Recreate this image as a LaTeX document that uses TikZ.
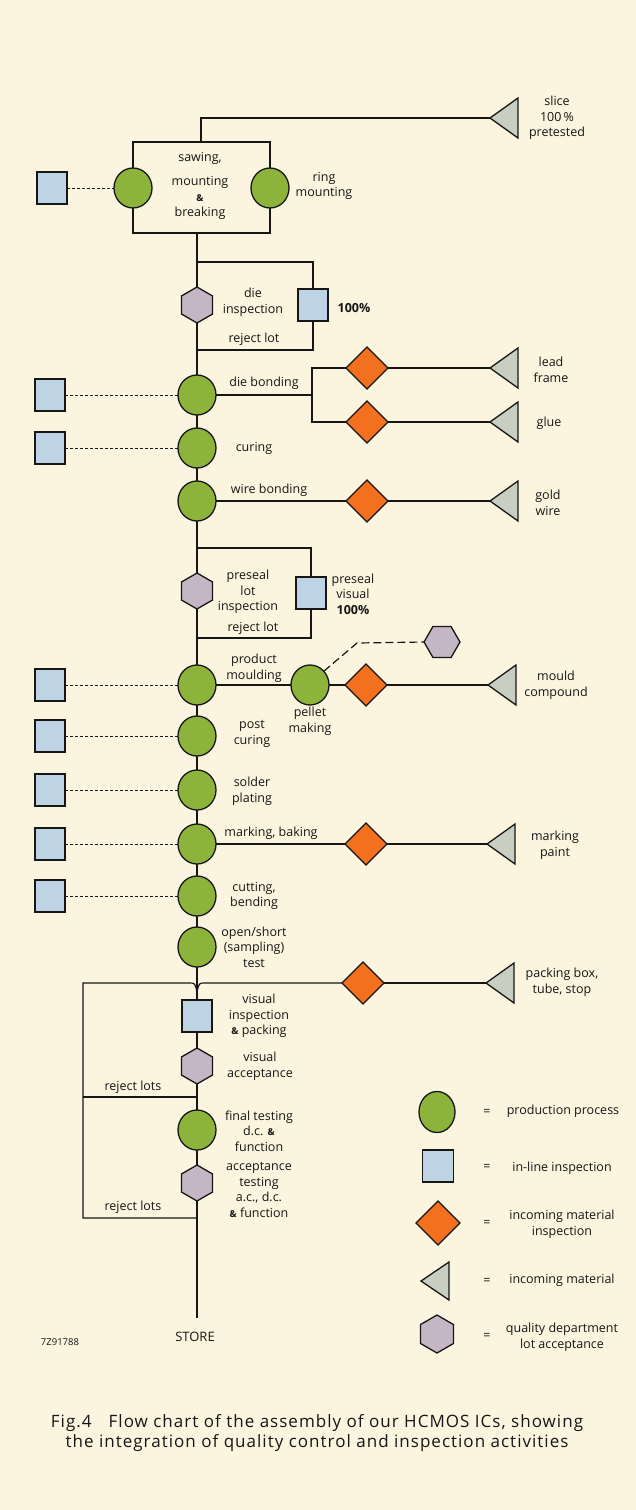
\documentclass[tikz,border=0pt]{standalone}
\usepackage{fontspec}
\setmainfont{Open Sans}
\newfontfamily\capfont{Open Sans}[LetterSpace=6]
\usetikzlibrary{shapes.geometric}

\definecolor{paper}{RGB}{251,244,222}
\definecolor{procgreen}{RGB}{141,180,58}
\definecolor{inspblue}{RGB}{190,212,228}
\definecolor{matorange}{RGB}{242,112,30}
\definecolor{matgrey}{RGB}{200,207,194}
\definecolor{qagrey}{RGB}{196,182,196}
\definecolor{ink}{RGB}{22,22,22}

\tikzset{
  every node/.style={inner sep=0pt, outer sep=0pt},
  shapeline/.style={draw=ink, line width=1.3pt},
  proc/.style={shapeline, ellipse, fill=procgreen, minimum width=38pt, minimum height=40pt},
  insp/.style={shapeline, rectangle, fill=inspblue, minimum width=30pt, minimum height=32pt},
  matl/.style={shapeline, diamond, fill=matorange, minimum width=42pt, minimum height=42pt},
  supply/.style={shapeline, isosceles triangle, isosceles triangle stretches,
    shape border rotate=180, fill=matgrey, minimum width=40pt, minimum height=28pt, anchor=apex},
  qahex/.style={shapeline, regular polygon, regular polygon sides=6, shape border rotate=90,
    fill=qagrey, minimum size=36pt},
  qahexflat/.style={shapeline, regular polygon, regular polygon sides=6,
    fill=qagrey, minimum size=36pt},
  flow/.style={draw=ink, line width=1.2pt},
  probe/.style={draw=ink, line width=0.9pt, dash pattern=on 3pt off 2pt},
  probewide/.style={draw=ink, line width=1.2pt, dash pattern=on 8pt off 4pt},
  lbl/.style={font=\fontsize{12.5}{15.5}\selectfont, text=ink, align=center},
  keytext/.style={font=\fontsize{12.5}{16.5}\selectfont, text=ink, align=center},
  amp/.style={font=\fontsize{9.5}{10}\selectfont\bfseries},
}
\newcommand{\smallamp}{{\fontsize{9.5}{10}\selectfont\bfseries\&}}

\begin{document}
\begin{tikzpicture}[x=1pt, y=-1pt]
\useasboundingbox (0,0) rectangle (636,1510);
\fill[paper] (0,0) rectangle (636,1510);

% ---------- sawing / mounting block ----------
\node[supply] (tSlice) at (490,118) {};
\node[lbl] (lSlice) at (557,118) {slice\\100\,\%\\pretested};
\coordinate (boxTop) at (201,142);
\coordinate (boxTL) at (133,142);
\coordinate (boxBR) at (270,233);
\coordinate (boxBot) at (197,233);
\draw[flow] (tSlice.apex) -| (boxTop);
\draw[flow] (boxTL) rectangle (boxBR);
\node[proc] (saw) at (133,188) {};
\node[proc] (ring) at (270,188) {};
\node[insp] (sqSaw) at (52,188) {};
\draw[probe] (sqSaw) -- (saw);
\node[lbl] (lSaw) at (200,186) {sawing,\\[9pt]mounting\\\smallamp\\breaking};
\node[lbl] (lRing) at (324,186) {ring\\mounting};

% ---------- die inspection loop ----------
\coordinate (dieTop) at (197,262);
\coordinate (dieBot) at (197,350);
\node[qahex] (hexDie) at (197,305) {};
\node[insp] (sqDie) at (313,305) {};
\draw[flow] (dieTop) -| (sqDie.north);
\draw[flow] (sqDie.south) |- (dieBot);
\node[lbl] (lDie) at (253,302) {die\\inspection};
\node[lbl, font=\fontsize{12.5}{15}\selectfont\bfseries] (lDie100) at (354,308) {100\%};
\node[lbl] (lRej1) at (254,339) {reject lot};

% ---------- bonding ----------
\node[proc] (bond) at (197,395) {};
\node[insp] (sqBond) at (50,395) {};
\draw[probe] (sqBond) -- (bond);
\node[lbl] (lBond) at (264,383) {die bonding};
\coordinate (bj) at (312,395);
\node[matl] (dLead) at (367,368) {};
\node[matl] (dGlue) at (367,422) {};
\node[supply] (tLead) at (490,368) {};
\node[supply] (tGlue) at (490,422) {};
\draw[flow] (bond.east) -- (bj);
\draw[flow] (dLead.west) -| (bj) |- (dGlue.west);
\draw[flow] (dLead.east) -- (tLead.apex);
\draw[flow] (dGlue.east) -- (tGlue.apex);
\node[lbl] (lLead) at (551,370) {lead\\frame};
\node[lbl] (lGlue) at (549,423) {glue};

\node[proc] (cure) at (197,448) {};
\node[insp] (sqCure) at (50,448) {};
\draw[probe] (sqCure) -- (cure);
\node[lbl] (lCure) at (254,448) {curing};

\node[proc] (wire) at (197,501) {};
\node[matl] (dGold) at (367,501) {};
\node[supply] (tGold) at (490,501) {};
\draw[flow] (wire.east) -- (dGold.west);
\draw[flow] (dGold.east) -- (tGold.apex);
\node[lbl] (lWire) at (269,490) {wire bonding};
\node[lbl] (lGold) at (548,503) {gold\\wire};

% ---------- preseal loop ----------
\coordinate (preTop) at (197,548);
\coordinate (preBot) at (197,638);
\node[qahex] (hexPre) at (197,591) {};
\node[insp] (sqPre) at (311,593) {};
\draw[flow] (preTop) -| (sqPre.north);
\draw[flow] (sqPre.south) |- (preBot);
\node[lbl] (lPre) at (248,592) {preseal\\lot\\inspection};
\node[lbl] (lPreVis) at (353,594) {preseal\\visual\\{\bfseries 100\%}};
\node[lbl] (lRej2) at (253,628) {reject lot};

% ---------- moulding ----------
\node[proc] (mould) at (197,685) {};
\node[insp] (sqMould) at (50,685) {};
\draw[probe] (sqMould) -- (mould);
\node[proc] (pellet) at (310,685) {};
\node[matl] (dMould) at (366,685) {};
\node[supply] (tMould) at (488,685) {};
\node[qahexflat] (hexPel) at (442,642) {};
\coordinate (pelBend) at (357,643);
\draw[flow] (mould.east) -- (pellet.west);
\draw[flow] (pellet.east) -- (dMould.west);
\draw[flow] (dMould.east) -- (tMould.apex);
\draw[probewide] (pellet.45) -- (pelBend) -- (hexPel.180);
\node[lbl] (lMould) at (254,668) {product\\moulding};
\node[lbl] (lPellet) at (310,721) {pellet\\making};
\node[lbl] (lComp) at (556,685) {mould\\compound};

\node[proc] (post) at (197,736) {};
\node[insp] (sqPost) at (50,736) {};
\draw[probe] (sqPost) -- (post);
\node[lbl] (lPost) at (252,734) {post\\curing};

\node[proc] (solder) at (197,790) {};
\node[insp] (sqSolder) at (50,790) {};
\draw[probe] (sqSolder) -- (solder);
\node[lbl] (lSolder) at (252,791) {solder\\plating};

\node[proc] (mark) at (197,844) {};
\node[insp] (sqMark) at (50,844) {};
\draw[probe] (sqMark) -- (mark);
\node[matl] (dMark) at (366,844) {};
\node[supply] (tMark) at (487,844) {};
\draw[flow] (mark.east) -- (dMark.west);
\draw[flow] (dMark.east) -- (tMark.apex);
\node[lbl] (lMark) at (271,833) {marking, baking};
\node[lbl] (lPaint) at (555,845) {marking\\paint};

\node[proc] (cut) at (197,896) {};
\node[insp] (sqCut) at (50,896) {};
\draw[probe] (sqCut) -- (cut);
\node[lbl] (lCut) at (254,896) {cutting,\\bending};

\node[proc] (open) at (197,947) {};
\node[lbl] (lOpen) at (254,947) {open/short\\(sampling)\\test};

% ---------- packing and final acceptance ----------
\coordinate (jn) at (197,992);
\node[matl] (dPack) at (363,983) {};
\node[supply] (tPack) at (486,983) {};
\draw[flow] (dPack.east) -- (tPack.apex);
\draw[flow] (dPack.west) -- (205,983) .. controls (199,983) .. (jn);
\node[lbl] (lPack) at (562,982) {packing box,\\tube, stop};

\node[insp] (sqVis) at (197,1016) {};
\node[lbl] (lVis) at (259,1016) {visual\\inspection\\\smallamp{} packing};
\node[qahex] (hexVis) at (197,1066) {};
\node[lbl] (lVisAcc) at (260,1066) {visual\\acceptance};
\node[proc] (final) at (197,1130) {};
\node[lbl] (lFinal) at (259,1131) {final testing\\d.c. \smallamp\\function};
\node[qahex] (hexAcc) at (197,1183) {};
\node[lbl] (lAcc) at (259,1190) {acceptance\\testing\\a.c., d.c.\\\smallamp{} function};

\coordinate (storeTop) at (197,1318);
\draw[flow] (open) -- (sqVis) -- (hexVis) -- (final) -- (hexAcc) -- (storeTop);
\draw[flow] (boxBot) -- (hexDie) -- (bond) -- (cure) -- (wire) -- (hexPre) -- (mould)
  -- (post) -- (solder) -- (mark) -- (cut) -- (open);

\coordinate (rjA) at (197,1097);
\coordinate (rjB) at (197,1218);
\draw[flow] (rjB) -- (83,1218) -- (83,983) -- (189,983) .. controls (195,983) .. (jn);
\draw[flow] (rjA) -- (83,1097);
\node[lbl] (lRejA) at (133,1087) {reject lots};
\node[lbl] (lRejB) at (133,1207) {reject lots};

\node[lbl, font=\fontsize{13}{15}\selectfont] (store) at (195,1337) {STORE};
\node[lbl, font=\fontsize{9.5}{10}\selectfont] (code) at (60,1342) {7Z91788};

% ---------- key ----------
\node[proc, minimum width=36pt, minimum height=41pt] (kProc) at (437,1112) {};
\node[insp, minimum width=31pt, minimum height=32pt] (kInsp) at (438,1166) {};
\node[matl, minimum width=44pt, minimum height=44pt] (kMatl) at (438,1223) {};
\node[supply, minimum width=38pt, minimum height=28pt] (kSup) at (421,1281) {};
\node[qahex, minimum size=38pt] (kQa) at (437,1334) {};
\foreach \yy/\nm in {1112/eA,1167/eB,1223/eC,1281/eD,1336/eE}
  \node[keytext] (\nm) at (487,\yy) {=};
\node[keytext] (kt1) at (563,1111) {production process};
\node[keytext] (kt2) at (562,1168) {in-line inspection};
\node[keytext] (kt3) at (562,1224) {incoming material\\inspection};
\node[keytext] (kt4) at (562,1280) {incoming material};
\node[keytext] (kt5) at (562,1337) {quality department\\lot acceptance};

% ---------- caption ----------
\node[font=\capfont\fontsize{17}{20.5}\selectfont, text=ink, align=center] (cap) at (317,1433)
  {Fig.4\quad Flow chart of the assembly of our HCMOS ICs, showing\\
   the integration of quality control and inspection activities};
\end{tikzpicture}
\end{document}
